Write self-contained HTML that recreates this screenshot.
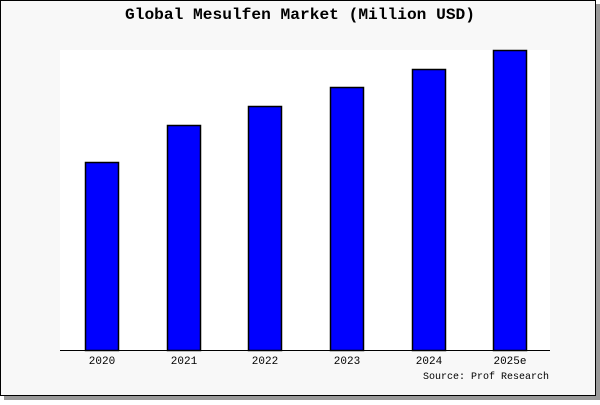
<!DOCTYPE html><html><head><style>body{margin:0;width:600px;height:400px;background:#fff;overflow:hidden}</style></head><body>
<svg width="600" height="400" xmlns="http://www.w3.org/2000/svg" font-family="Liberation Mono, DejaVu Sans Mono, monospace">
<rect x="4" y="4" width="596" height="396" fill="#999"/>
<rect x="0.5" y="0.5" width="595" height="395" fill="#f8f8f8" stroke="#000"/>
<rect x="60" y="50" width="490" height="300" fill="#fff"/>
<text x="300" y="19" text-anchor="middle" font-size="16" font-weight="bold" textLength="350" lengthAdjust="spacingAndGlyphs">Global Mesulfen Market (Million USD)</text>
<g fill="#0000ff" stroke="#000" stroke-width="1.5">
<rect x="85.5" y="162.5" width="33" height="188"/>
<rect x="167.5" y="125.5" width="33" height="225"/>
<rect x="248.5" y="106.5" width="33" height="244"/>
<rect x="330.5" y="87.5" width="33" height="263"/>
<rect x="412.5" y="69.5" width="33" height="281"/>
<rect x="493.5" y="50.5" width="33" height="300"/>
</g>
<line x1="60" y1="350.5" x2="550" y2="350.5" stroke="#000"/>
<g font-size="11" text-anchor="middle">
<text x="102" y="364">2020</text><text x="184" y="364">2021</text><text x="265" y="364">2022</text>
<text x="347" y="364">2023</text><text x="429" y="364">2024</text><text x="510" y="364">2025e</text>
</g>
<text x="549" y="379" font-size="10.5" text-anchor="end" textLength="126" lengthAdjust="spacingAndGlyphs">Source: Prof Research</text>
</svg></body></html>
